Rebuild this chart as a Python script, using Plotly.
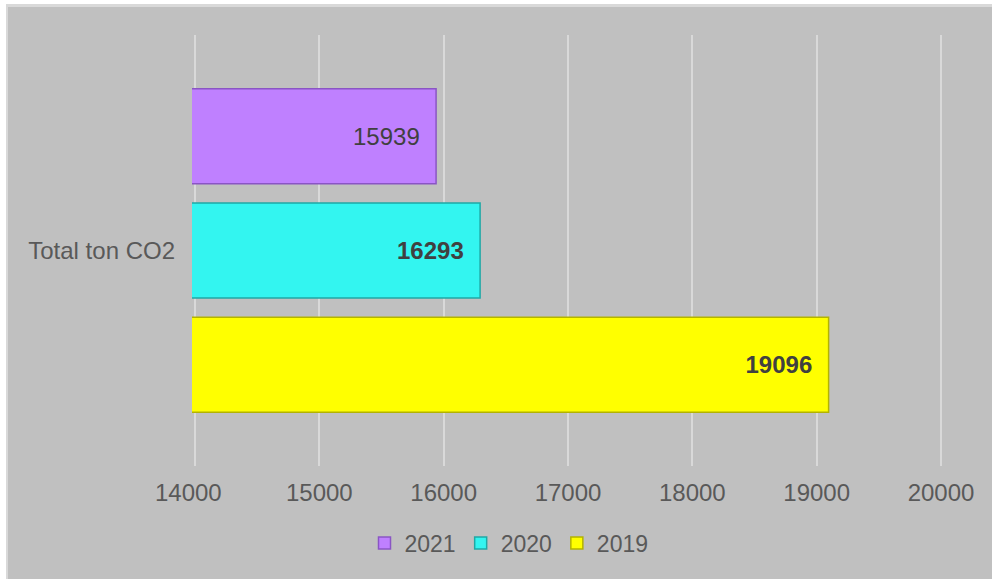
import plotly.graph_objects as go

categories = ["Total ton CO2"]
values_2019 = [19096]
values_2020 = [16293]
values_2021 = [15939]
x_ticks = [14000, 15000, 16000, 17000, 18000, 19000, 20000]
x_tick_labels = ["14000\u00a0\u00a0", "15000", "16000", "17000", "18000", "19000", "20000"]

series = [
    ("2019", values_2019, "#ffff00", "#b3b300", True),
    ("2020", values_2020, "#33f5f0", "#1fa8a5", True),
    ("2021", values_2021, "#bf80ff", "#8a55c4", False),
]

fig = go.Figure()
for name, vals, col, line_col, bold in series:
    tmpl = ("<b>%{x:d}</b>" if bold else "%{x:d}") + "\u00a0\u00a0"
    fig.add_trace(go.Bar(
        y=categories, x=vals, name=name, orientation="h",
        marker=dict(color=col, line=dict(color=line_col, width=1.5)),
        texttemplate=tmpl, textposition="inside", insidetextanchor="end",
        textfont=dict(size=24, color="#404040", family="Liberation Sans, Arial"),
        cliponaxis=True,
    ))

L, R, T, B = 192, 48, 35, 113
W, H = 992, 579
pw = W - L - R
ph = H - T - B

def px_x(p):
    return (p - L) / pw

def px_y(p):
    return (H - B - p) / ph

shapes = [
    dict(type="rect", xref="paper", yref="paper", layer="below",
         x0=px_x(-10), x1=px_x(1000), y0=px_y(7), y1=px_y(-10),
         fillcolor="#d9d9d9", line=dict(width=0)),
    dict(type="rect", xref="paper", yref="paper", layer="below",
         x0=px_x(-10), x1=px_x(8), y0=px_y(590), y1=px_y(-10),
         fillcolor="#d9d9d9", line=dict(width=0)),
    dict(type="rect", xref="paper", yref="paper", layer="below",
         x0=px_x(-10), x1=px_x(1000), y0=px_y(4), y1=px_y(-10),
         fillcolor="#ffffff", line=dict(width=0)),
    dict(type="rect", xref="paper", yref="paper", layer="below",
         x0=px_x(-10), x1=px_x(6), y0=px_y(590), y1=px_y(-10),
         fillcolor="#ffffff", line=dict(width=0)),
]

fig.update_layout(
    width=W, height=H,
    margin=dict(l=L, r=R, t=T, b=B),
    paper_bgcolor="#c0c0c0",
    plot_bgcolor="rgba(0,0,0,0)",
    barmode="group",
    bargap=0.204,
    bargroupgap=0.169,
    shapes=shapes,
    font=dict(family="Liberation Sans, Arial", color="#595959"),
    showlegend=True,
    legend=dict(orientation="h", traceorder="reversed",
                x=px_x(509), xanchor="center", y=px_y(543), yanchor="middle",
                font=dict(size=23, color="#595959"),
                bgcolor="rgba(0,0,0,0)", itemwidth=30),
    xaxis=dict(range=[13976, 20024], tickvals=x_ticks, ticktext=x_tick_labels,
               showgrid=True, gridcolor="#d9d9d9", gridwidth=2,
               zeroline=False, showline=False,
               tickfont=dict(size=24, color="#595959"),
               ticklabelstandoff=10),
    yaxis=dict(showgrid=False, zeroline=False, showline=False,
               tickfont=dict(size=24, color="#595959"),
               ticklabelstandoff=16),
)

fig.write_html("out.html", config={"displayModeBar": False},
               post_script="document.body.style.margin='0';document.body.style.overflow='hidden';")
